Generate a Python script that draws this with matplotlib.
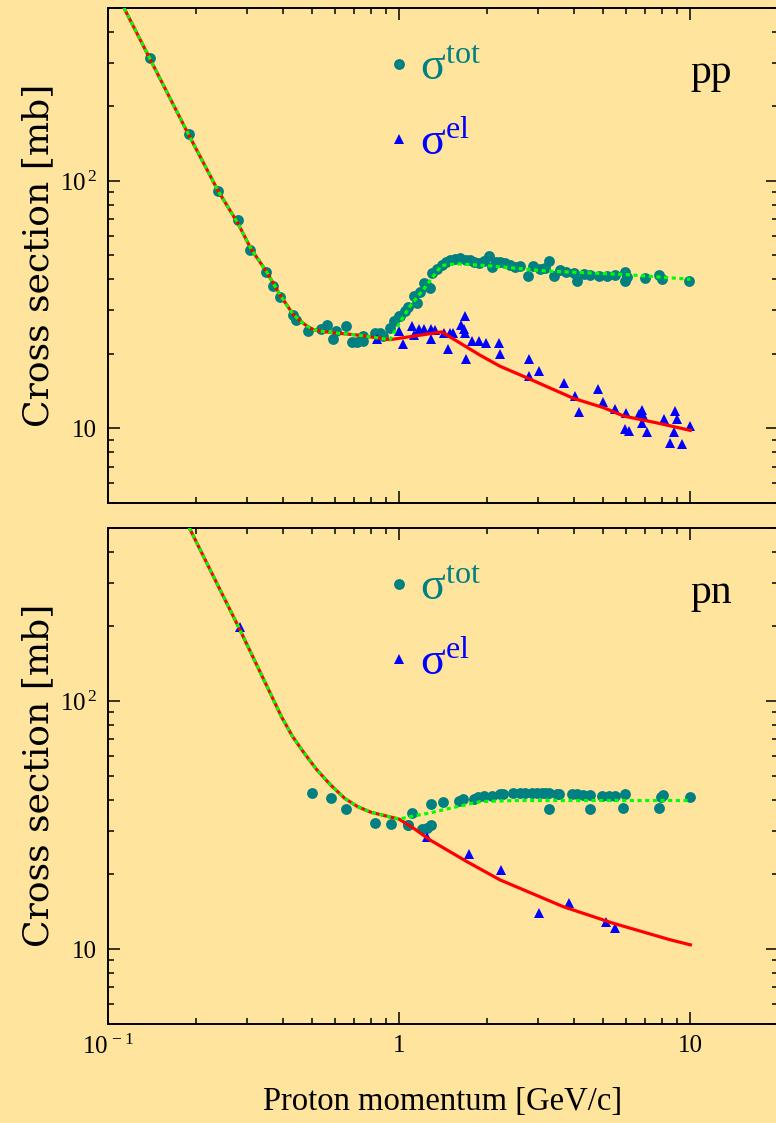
import numpy as np
import matplotlib
matplotlib.use("Agg")
import matplotlib.pyplot as plt
from matplotlib.ticker import LogLocator, NullFormatter, FixedLocator, FixedFormatter

# colores
fondo = '#ffe49e'
teal = '#008080'
azul = '#0000ff'
rojo = '#ff0000'
verde = '#00ff00'

# ---- pp : datos sigma total (circulos)
pp_tot_x = [0.139, 0.189, 0.239, 0.279, 0.308, 0.349, 0.368, 0.390, 0.431, 0.441,
            0.488, 0.538, 0.567, 0.592, 0.606, 0.658, 0.687, 0.716, 0.750, 0.754,
            0.827, 0.860, 0.879, 0.931, 0.963, 0.995, 1.008, 1.048, 1.07, 1.12,
            1.15, 1.18, 1.212, 1.25, 1.278, 1.296, 1.35, 1.402, 1.45, 1.497,
            1.55, 1.62, 1.70, 1.754, 1.81, 1.873, 1.95, 2.03, 2.08, 2.15,
            2.22, 2.30, 2.41, 2.50, 2.60, 2.78, 2.89, 3.05, 3.17, 3.26,
            3.39, 3.57, 3.75, 3.97, 4.08, 4.30, 4.53, 4.84, 5.17, 5.52,
            5.98, 5.98, 6.05, 7.0, 7.78, 8.0, 9.86]
pp_tot_y = [313, 154, 91.4, 69.6, 52.7, 42.7, 37.5, 34.0, 28.6, 27.5,
            24.7, 25.1, 26.2, 23.0, 24.7, 25.8, 22.3, 22.4, 23.7, 22.5,
            24.2, 24.2, 23.6, 25.5, 27.1, 28.4, 28.4, 29.8, 31.0, 34.2,
            32.1, 35.5, 38.6, 37.5, 36.9, 42.5, 44.0, 45.8, 47.0, 48.0,
            48.5, 48.8, 48.0, 47.7, 47.2, 46.6, 47.5, 49.5, 44.9, 47.0,
            46.9, 46.5, 45.8, 45.0, 45.4, 41.4, 45.1, 44.0, 44.5, 47.3,
            41.4, 43.7, 43.0, 42.5, 39.3, 42.0, 41.8, 41.2, 41.2, 41.8,
            39.3, 43.0, 41.0, 40.5, 41.8, 40.2, 39.3]

# ---- pp : datos sigma elastica (triangulos)
pp_el_x = [0.838, 1.0, 1.034, 1.106, 1.126, 1.165, 1.212, 1.285, 1.285, 1.33,
           1.428, 1.466, 1.49, 1.536, 1.628, 1.663, 1.686, 1.686, 1.70, 1.777,
           1.887, 1.99, 2.195, 2.22, 2.80, 2.80, 3.01, 3.67, 4.02, 4.16,
           4.80, 5.01, 5.52, 5.98, 6.14, 6.03, 6.64, 6.82, 6.87, 6.82,
           7.08, 8.13, 8.83, 9.0, 8.76, 8.48, 9.37, 9.94]
pp_el_y = [22.9, 24.7, 21.8, 25.8, 23.9, 25.2, 25.2, 25.2, 22.9, 24.9,
           24.3, 20.9, 24.3, 24.2, 26.2, 25.2, 28.4, 24.3, 19.0, 22.5,
           22.5, 22.2, 22.2, 19.9, 19.1, 16.3, 17.0, 15.3, 13.5, 11.6,
           14.4, 12.8, 12.0, 9.9, 9.76, 11.5, 11.4, 11.8, 11.3, 10.5,
           9.67, 10.9, 11.7, 10.9, 9.67, 8.71, 8.61, 10.2]

# ---- pp : curvas del modelo (tramo comun + ramas)
pp_low_x = [0.1135, 0.139, 0.189, 0.239, 0.28, 0.31, 0.35, 0.39, 0.433, 0.46,
            0.482, 0.508, 0.55, 0.60, 0.72, 0.86, 0.93]
pp_low_y = [500, 313, 154, 91, 67, 53, 43, 34.5, 28.8, 27.0,
            25.9, 25.0, 24.6, 24.3, 23.8, 23.1, 22.8]
pp_tot_fit_x = [1.0, 1.09, 1.21, 1.31, 1.40, 1.58, 2.06, 3.2, 6.0, 10.0]
pp_tot_fit_y = [26.5, 31.2, 36.3, 41.2, 45.5, 46.2, 45.3, 43.2, 41.8, 40.0]
pp_el_fit_x = [1.4, 1.9, 2.22, 2.74, 3.97, 5.04, 5.9, 7.69, 10.0]
pp_el_fit_y = [24.5, 19.7, 17.8, 16.0, 13.2, 12.1, 11.2, 10.5, 9.8]

# ---- pn : datos
pn_tot_x = [0.50, 0.584, 0.658, 0.829, 0.939, 1.071, 1.076, 1.11, 1.196, 1.245,
            1.285, 1.288, 1.409, 1.6, 1.66, 1.80, 1.87, 1.95, 2.08, 2.22,
            2.28, 2.46, 2.60, 2.71, 2.86, 2.97, 3.09, 3.17, 3.28, 3.27,
            3.48, 3.55, 3.92, 4.07, 4.27, 4.53, 4.51, 4.97, 5.24, 5.52,
            5.87, 5.98, 7.78, 7.9, 8.06, 10.0]
pn_tot_y = [42.5, 40.7, 36.8, 32.1, 31.9, 31.6, 31.6, 35.4, 30.4, 30.9,
            31.6, 38.3, 39.3, 39.5, 40.2, 40.2, 40.9, 41.4, 41.4, 42.2,
            42.2, 42.5, 42.5, 42.5, 42.7, 42.7, 42.7, 42.7, 42.5, 36.7,
            42.2, 42.2, 42.2, 42.2, 41.8, 41.8, 36.6, 41.4, 41.4, 41.4,
            36.9, 42.2, 37.2, 41.1, 41.8, 41.1]
pn_el_x = [0.283, 1.245, 1.73, 2.24, 3.01, 3.84, 5.13, 5.52]
pn_el_y = [199, 28.2, 24.2, 20.9, 14.0, 15.4, 12.8, 12.2]

pn_low_x = [0.19, 0.283, 0.395, 0.43, 0.47, 0.52, 0.58, 0.65, 0.72, 0.80, 0.90, 1.0]
pn_low_y = [500, 195, 86, 72, 62, 53, 46, 40.5, 37.5, 35.6, 34.4, 33.4]
pn_tot_fit_x = [1.12, 1.278, 1.58, 1.90, 2.47, 10.0]
pn_tot_fit_y = [34.4, 35.4, 37.5, 39.3, 39.7, 39.7]
pn_el_fit_x = [1.12, 1.278, 1.709, 2.22, 3.67, 5.44, 8.52, 10.0]
pn_el_fit_y = [30.7, 27.5, 22.5, 19.0, 14.8, 12.7, 10.9, 10.4]

plt.rcParams['font.family'] = ['Liberation Serif', 'DejaVu Serif']
plt.rcParams['mathtext.fontset'] = 'stix'

figura = plt.figure(figsize=(7.76, 11.23), dpi=100, facecolor=fondo)
ax1 = figura.add_axes([0.1392, 0.5524, 0.8634, 0.4405])
ax2 = figura.add_axes([0.1392, 0.0884, 0.8634, 0.4418])

paneles = [
    (ax1, 'pp', pp_tot_x, pp_tot_y, pp_el_x, pp_el_y, pp_low_x, pp_low_y,
     pp_tot_fit_x, pp_tot_fit_y, pp_el_fit_x, pp_el_fit_y),
    (ax2, 'pn', pn_tot_x, pn_tot_y, pn_el_x, pn_el_y, pn_low_x, pn_low_y,
     pn_tot_fit_x, pn_tot_fit_y, pn_el_fit_x, pn_el_fit_y),
]

for (a, nombre, tx, ty, ex, ey, lx, ly, tfx, tfy, efx, efy) in paneles:
    a.set_facecolor(fondo)
    a.set_xscale('log')
    a.set_yscale('log')
    a.set_xlim(0.1, 20)
    a.set_ylim(5, 500)

    a.plot(tx, ty, 'o', color=teal, markersize=7.8, markeredgewidth=0,
           label=r'σ$^{\mathregular{tot}}$', zorder=2)
    a.plot(ex, ey, '^', color=azul, markersize=7.8, markeredgewidth=0,
           label=r'σ$^{\mathregular{el}}$', zorder=2)
    # curvas: el tramo de baja energia es comun
    a.plot(lx + efx, ly + efy, '-', color=rojo, lw=2.3, zorder=3)
    a.plot(lx + tfx, ly + tfy, color=verde, lw=2.3, linestyle=(0, (1.3, 1.1)), zorder=4)

    a.legend(loc='upper left', bbox_to_anchor=(0.414, 0.92), frameon=False,
             fontsize=33, handlelength=0.6, handletextpad=0.15,
             labelspacing=0.7, borderpad=0, borderaxespad=0,
             labelcolor=[teal, azul])
    a.text(0.869, 0.848, nombre, transform=a.transAxes, fontsize=30,
           ha='left', va='baseline')

    a.set_ylabel('Cross section [mb]', family='DejaVu Serif', fontsize=26)
    a.yaxis.set_label_coords(-0.079, 0.5)

    a.yaxis.set_major_locator(FixedLocator([10, 100]))
    a.yaxis.set_major_formatter(FixedFormatter(['10', r'$\mathregular{10^{\,2}}$']))
    a.yaxis.set_minor_locator(LogLocator(base=10, subs=np.arange(2, 10)))
    a.yaxis.set_minor_formatter(NullFormatter())
    a.xaxis.set_major_locator(FixedLocator([0.1, 1, 10]))
    a.xaxis.set_major_formatter(FixedFormatter([r'$\mathregular{10^{\,-1}}$', '1', '10']))
    a.xaxis.set_minor_locator(LogLocator(base=10, subs=np.arange(2, 10)))
    a.xaxis.set_minor_formatter(NullFormatter())

    a.tick_params(which='both', direction='in', top=True, right=True, width=1.1,
                  labelsize=18, colors='black')
    a.tick_params(which='major', length=8.5, pad=8)
    a.tick_params(which='minor', length=4.5)
    for s in a.spines.values():
        s.set_linewidth(1.4)

ax1.tick_params(labelbottom=False)
ax2.set_xlabel('Proton momentum [GeV/c]', fontsize=23.5, labelpad=20)

plt.savefig('out.png', dpi=100, facecolor=fondo)
